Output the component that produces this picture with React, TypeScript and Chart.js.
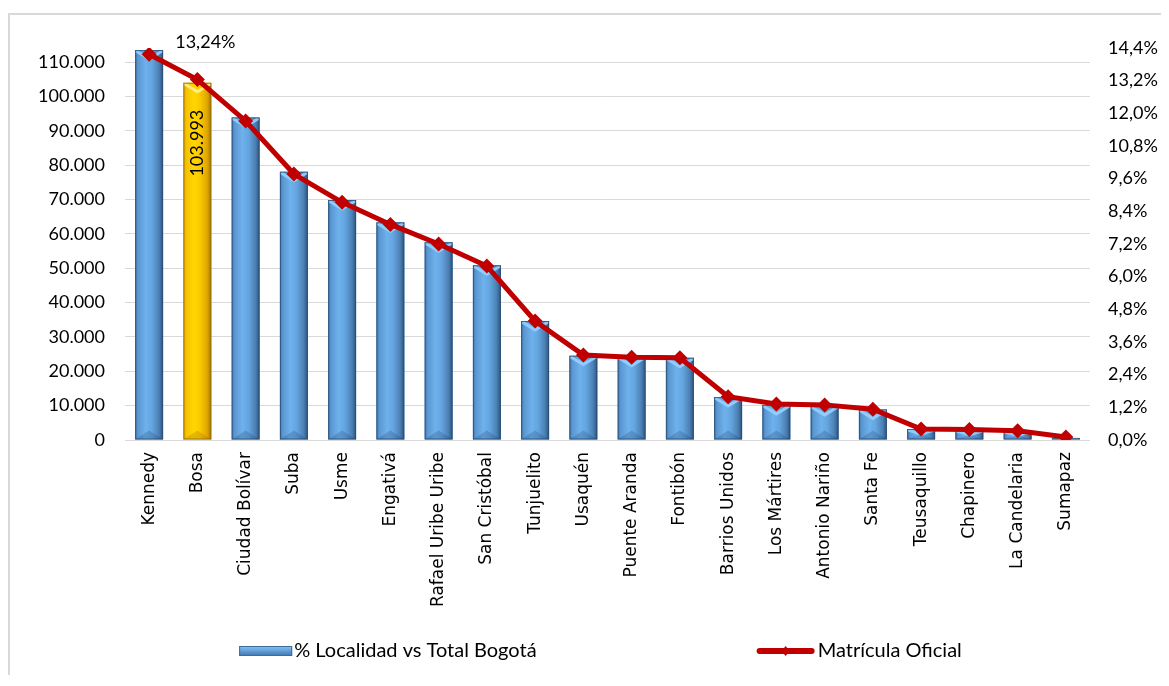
import React, { useEffect, useRef } from 'react';
import { Chart, registerables } from 'chart.js';

Chart.register(...registerables);

// ---------- data ----------
const categories = [
  'Kennedy', 'Bosa', 'Ciudad Bolívar', 'Suba', 'Usme', 'Engativá',
  'Rafael Uribe Uribe', 'San Cristóbal', 'Tunjuelito', 'Usaquén',
  'Puente Aranda', 'Fontibón', 'Barrios Unidos', 'Los Mártires',
  'Antonio Nariño', 'Santa Fe', 'Teusaquillo', 'Chapinero',
  'La Candelaria', 'Sumapaz',
];
const enrollment = [
  113500, 103993, 93900, 78100, 69850, 63350, 57550, 50850, 34650, 24550,
  24250, 23950, 12500, 10200, 9900, 8900, 3200, 2900, 2600, 600,
];
const sharePct = [
  14.17, 13.24, 11.72, 9.77, 8.73, 7.92, 7.2, 6.39, 4.37, 3.12,
  3.04, 3.02, 1.59, 1.32, 1.29, 1.13, 0.4, 0.39, 0.34, 0.11,
];
const leftTicks = [0, 10000, 20000, 30000, 40000, 50000, 60000, 70000, 80000, 90000, 100000, 110000];
const rightTicks = [0, 1.2, 2.4, 3.6, 4.8, 6.0, 7.2, 8.4, 9.6, 10.8, 12.0, 13.2, 14.4];
const barSeriesName = '% Localidad vs Total Bogotá';
const lineSeriesName = 'Matrícula Oficial';
const highlightCategory = 'Bosa';
const leftAxisMax = 114100;
const rightAxisMax = 14.4;

// ---------- helpers ----------
const fmtThousands = (v: number) =>
  Math.round(v).toString().replace(/\B(?=(\d{3})+(?!\d))/g, '.');
const fmtPct = (v: number, d: number) => v.toFixed(d).replace('.', ',') + '%';

const FONT = 'Lato, "Liberation Sans", sans-serif';
const CAT_FONT = '"DejaVu Sans", "Noto Sans", sans-serif';

const BLUE_STOPS: [number, string][] = [
  [0, '#3f72a6'], [0.1, '#5a97d1'], [0.38, '#6eb1ec'], [0.6, '#64a5df'],
  [0.85, '#4b80b4'], [1, '#2b537d'],
];
const GOLD_STOPS: [number, string][] = [
  [0, '#d49f00'], [0.1, '#f6c200'], [0.38, '#ffd600'], [0.6, '#fbc800'],
  [0.85, '#dfa600'], [1, '#a27500'],
];

const barStylePlugin = {
  id: 'barStyle',
  afterDatasetDraw(chart: any, args: any) {
    if (args.index !== 0) return;
    const ctx = chart.ctx as CanvasRenderingContext2D;
    const hi = categories.indexOf(highlightCategory);
    args.meta.data.forEach((el: any, i: number) => {
      const { x, y, base, width } = el.getProps(['x', 'y', 'base', 'width'], true);
      const left = x - width / 2;
      const right = x + width / 2;
      const top = Math.min(y, base);
      const bottom = Math.max(y, base);
      const h = bottom - top;
      const gold = i === hi;
      ctx.save();
      ctx.beginPath();
      ctx.rect(left, top, width, h);
      ctx.clip();
      const g = ctx.createLinearGradient(left, 0, right, 0);
      (gold ? GOLD_STOPS : BLUE_STOPS).forEach(([o, c]) => g.addColorStop(o, c));
      ctx.fillStyle = g;
      ctx.fillRect(left, top, width, h);
      const bev = Math.min(width * 0.32, h / 2);
      ctx.beginPath();
      ctx.moveTo(left, bottom);
      ctx.lineTo(x, bottom - bev);
      ctx.lineTo(right, bottom);
      ctx.closePath();
      ctx.fillStyle = gold ? 'rgba(150,100,0,0.25)' : 'rgba(25,55,95,0.22)';
      ctx.fill();
      ctx.beginPath();
      ctx.moveTo(left + 1, top + 1);
      ctx.lineTo(x, top + bev);
      ctx.lineTo(right - 1, top + 1);
      ctx.lineWidth = 3;
      ctx.strokeStyle = gold ? 'rgba(255,238,140,0.9)' : 'rgba(150,210,255,0.9)';
      ctx.stroke();
      ctx.restore();
      ctx.save();
      ctx.strokeStyle = gold ? 'rgba(150,105,0,0.8)' : 'rgba(40,75,115,0.75)';
      ctx.lineWidth = 1;
      ctx.strokeRect(left + 0.5, top + 0.5, width - 1, h - 1);
      ctx.restore();
    });
  },
};

const dataLabelPlugin = {
  id: 'dataLabels',
  afterDatasetsDraw(chart: any) {
    const ctx = chart.ctx as CanvasRenderingContext2D;
    const hi = categories.indexOf(highlightCategory);
    const barEl = chart.getDatasetMeta(0).data[hi];
    const lineEl = chart.getDatasetMeta(1).data[hi];
    ctx.save();
    ctx.fillStyle = '#000';
    ctx.font = `18px ${FONT}`;
    ctx.textAlign = 'center';
    ctx.textBaseline = 'middle';
    ctx.fillText(fmtPct(sharePct[hi], 2), lineEl.x + 8, lineEl.y - 37);
    ctx.translate(barEl.x, barEl.y + 27);
    ctx.rotate(-Math.PI / 2);
    ctx.textAlign = 'right';
    ctx.fillText(fmtThousands(enrollment[hi]), 0, 0);
    ctx.restore();
  },
};

const legendPlugin = {
  id: 'customLegend',
  afterDraw(chart: any) {
    const ctx = chart.ctx as CanvasRenderingContext2D;
    const ca = chart.chartArea;
    const y = chart.height - 24;
    ctx.save();
    ctx.font = `20px ${FONT}`;
    ctx.textBaseline = 'middle';
    ctx.textAlign = 'left';
    const w1 = ctx.measureText(barSeriesName).width;
    const w2 = ctx.measureText(lineSeriesName).width;
    const boxW = 53, lineW = 58, gap = 220;
    const total = boxW + 2 + w1 + gap + lineW + 3 + w2;
    let x = (ca.left + ca.right) / 2 - 7 - total / 2;
    const g = ctx.createLinearGradient(0, y - 5, 0, y + 5);
    g.addColorStop(0, '#8cc2f0');
    g.addColorStop(0.5, '#5f9fdb');
    g.addColorStop(1, '#3f73a8');
    ctx.fillStyle = g;
    ctx.fillRect(x, y - 5, boxW, 10);
    ctx.strokeStyle = '#3d6a97';
    ctx.lineWidth = 1;
    ctx.strokeRect(x + 0.5, y - 4.5, boxW - 1, 9);
    x += boxW + 2;
    ctx.fillStyle = '#000';
    ctx.fillText(barSeriesName, x, y);
    x += w1 + gap;
    ctx.strokeStyle = '#c00000';
    ctx.lineWidth = 6;
    ctx.lineCap = 'round';
    ctx.beginPath();
    ctx.moveTo(x + 3, y);
    ctx.lineTo(x + lineW - 3, y);
    ctx.stroke();
    ctx.fillStyle = '#c00000';
    ctx.beginPath();
    const cx = x + lineW / 2;
    ctx.moveTo(cx, y - 5);
    ctx.lineTo(cx + 4, y);
    ctx.lineTo(cx, y + 5);
    ctx.lineTo(cx - 4, y);
    ctx.closePath();
    ctx.fill();
    x += lineW + 3;
    ctx.fillStyle = '#000';
    ctx.fillText(lineSeriesName, x, y);
    ctx.restore();
  },
};

export default function App() {
  const ref = useRef<HTMLCanvasElement | null>(null);

  useEffect(() => {
    let chart: Chart | null = null;
    let cancelled = false;
    const hi = categories.indexOf(highlightCategory);

    const build = () => {
      if (cancelled || !ref.current) return;
      chart = new Chart(ref.current, {
        type: 'bar',
        data: {
          labels: categories,
          datasets: [
            {
              type: 'bar',
              label: barSeriesName,
              data: enrollment,
              yAxisID: 'y',
              backgroundColor: categories.map((_, i) => (i === hi ? '#ffc000' : '#5b9bd5')),
              categoryPercentage: 1,
              barPercentage: 0.58,
              order: 1,
            },
            {
              type: 'line',
              label: lineSeriesName,
              data: sharePct,
              yAxisID: 'y1',
              borderColor: '#c00000',
              borderWidth: 5,
              tension: 0,
              pointStyle: 'rectRot',
              pointRadius: 7.5,
              pointBackgroundColor: '#c00000',
              pointBorderColor: '#c00000',
              pointBorderWidth: 0,
              order: 0,
            },
          ] as any,
        },
        options: {
          animation: false,
          responsive: false,
          maintainAspectRatio: false,
          layout: { padding: { top: 33, left: 0, right: 0, bottom: 45 } },
          plugins: {
            legend: { display: false },
            tooltip: { enabled: false },
          },
          scales: {
            x: {
              grid: { display: false, drawTicks: false },
              border: { display: false },
              ticks: {
                autoSkip: false,
                minRotation: 90,
                maxRotation: 90,
                padding: 12,
                color: '#000',
                font: { family: CAT_FONT, size: 17 },
              },
              afterFit: (s: any) => { s.height = 190; },
            },
            y: {
              position: 'left',
              min: 0,
              max: leftAxisMax,
              grid: { color: '#d9d9d9', lineWidth: 1, drawTicks: false },
              border: { display: false },
              afterBuildTicks: (s: any) => { s.ticks = leftTicks.map((value) => ({ value })); },
              ticks: {
                padding: 20,
                color: '#000',
                font: { family: FONT, size: 18 },
                callback: (v: any) => fmtThousands(Number(v)),
              },
              afterFit: (s: any) => { s.width = 115; },
            },
            y1: {
              position: 'right',
              min: 0,
              max: rightAxisMax,
              grid: { display: false, drawTicks: false },
              border: { display: false },
              afterBuildTicks: (s: any) => { s.ticks = rightTicks.map((value) => ({ value })); },
              ticks: {
                padding: 18,
                color: '#000',
                font: { family: FONT, size: 18 },
                callback: (v: any) => fmtPct(Number(v), 1),
              },
              afterFit: (s: any) => { s.width = 71; },
            },
          },
        } as any,
        plugins: [barStylePlugin, dataLabelPlugin, legendPlugin],
      });
    };

    const fonts: any = (document as any).fonts;
    if (fonts && fonts.load) {
      Promise.all([
        fonts.load('17px "DejaVu Sans"', 'Kennedy'),
        fonts.load('18px Lato', '110.000'),
      ])
        .catch(() => undefined)
        .then(build);
    } else {
      build();
    }
    return () => {
      cancelled = true;
      if (chart) chart.destroy();
    };
  }, []);

  return (
    <div
      style={{
        marginTop: 5,
        borderTop: '2px solid #d9d9d9',
        borderLeft: '2px solid #d9d9d9',
        width: 1151,
        height: 660,
        background: '#fff',
        position: 'relative',
      }}
    >
      <span
        style={{
          position: 'absolute',
          left: 0,
          top: 0,
          visibility: 'hidden',
          fontFamily: '"DejaVu Sans"',
          fontSize: 17,
        }}
      >
        Kennedy
      </span>
      <canvas ref={ref} width={1151} height={660} style={{ display: 'block' }} />
    </div>
  );
}
